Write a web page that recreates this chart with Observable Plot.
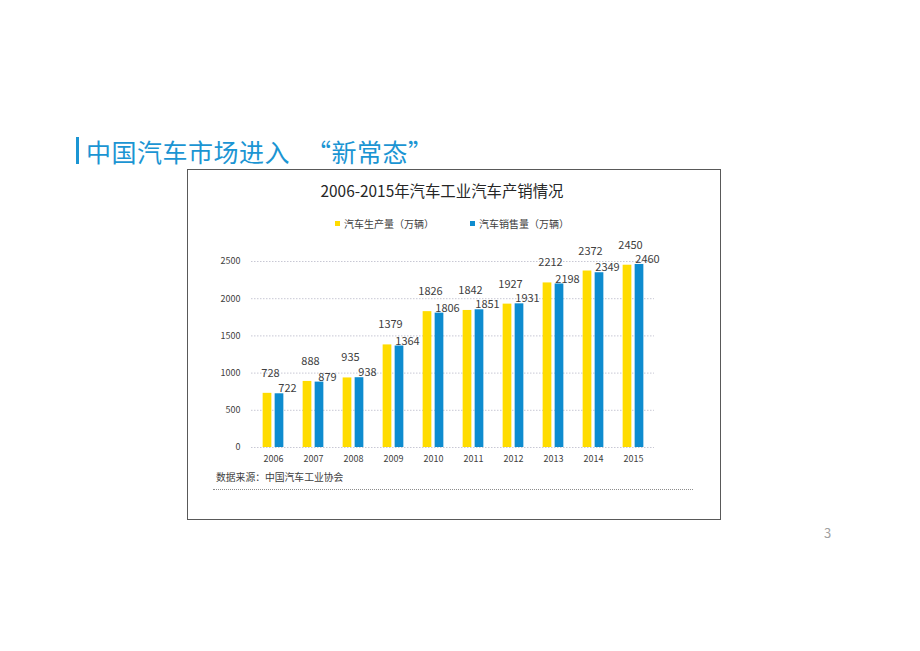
<!DOCTYPE html>
<html><head><meta charset="utf-8">
<script src="https://cdn.jsdelivr.net/npm/d3@7"></script>
<script src="https://cdn.jsdelivr.net/npm/@observablehq/plot@0.6"></script>
<style>
html,body{margin:0;padding:0;background:#fff;}
body{width:920px;height:651px;position:relative;overflow:hidden;font-family:"Noto Sans CJK SC","Noto Sans",sans-serif;}
.abs{position:absolute;}
#mainTitle{left:86px;top:133px;font-size:25px;letter-spacing:0.5px;color:#1b95d3;white-space:nowrap;line-height:36px;}
#bar{left:76px;top:137px;width:3px;height:27px;background:#1b95d3;}
#box{left:187px;top:169px;width:532px;height:349px;border:1px solid #595959;}
#chartTitle{left:188px;width:508px;top:179px;text-align:center;font-size:15.4px;color:#262626;white-space:nowrap;}
.leg{top:216px;font-size:10px;color:#404040;white-space:nowrap;display:flex;align-items:center;}
.sw{width:5px;height:5px;display:inline-block;margin-right:4px;}
#source{left:216px;top:470px;font-size:9.8px;color:#404040;white-space:nowrap;}
#srcline{left:213px;top:489px;width:480px;border-top:1px dotted #8c8c8c;}
#page{left:824px;top:523px;font-size:13px;color:#a0a0a0;}
#plot{left:188px;top:230px;}
</style></head>
<body>
<div id="bar" class="abs"></div>
<div id="mainTitle" class="abs">中国汽车市场进入<span style="margin-left:16px">“新常态”</span></div>
<div id="box" class="abs"></div>
<div id="chartTitle" class="abs">2006-2015年汽车工业汽车产销情况</div>
<div class="abs leg" style="left:335px"><span class="sw" style="background:#ffdc00"></span>汽车生产量（万辆）</div>
<div class="abs leg" style="left:470px"><span class="sw" style="background:#0e8ccf"></span>汽车销售量（万辆）</div>
<div id="plot" class="abs"></div>
<div id="source" class="abs">数据来源：中国汽车工业协会</div>
<div id="srcline" class="abs"></div>
<div id="page" class="abs">3</div>
<script>
const years = ["2006","2007","2008","2009","2010","2011","2012","2013","2014","2015"];
const production = [728, 888, 935, 1379, 1826, 1842, 1927, 2212, 2372, 2450];
const sales = [722, 879, 938, 1364, 1806, 1851, 1931, 2198, 2349, 2460];
const yTicks = [0, 500, 1000, 1500, 2000, 2500];
const prodColor = "#ffdc00";
const salesColor = "#0e8ccf";

const prodData = years.map((y, i) => ({year: y, value: production[i]}));
const salesData = years.map((y, i) => ({year: y, value: sales[i]}));

const width = 532, height = 240;
const marginLeft = 63, marginRight = 66;
const step = (width - marginLeft - marginRight) / years.length;
const half = step / 2;

const chart = Plot.plot({
  width, height,
  marginLeft, marginRight, marginTop: 31, marginBottom: 23,
  style: {fontFamily: "'Noto Sans CJK SC','Noto Sans',sans-serif", fontSize: "9px", color: "#404040", background: "transparent", overflow: "visible"},
  x: {type: "band", domain: years, padding: 0, label: null, tickSize: 0, tickPadding: 8},
  y: {domain: [0, 2500], ticks: yTicks, tickFormat: d => String(d), label: null, tickSize: 0, tickPadding: 11},
  marks: [
    Plot.ruleY(yTicks, {stroke: "#c8c8d4", strokeDasharray: "1.5,1.5", strokeWidth: 1}),
    Plot.barY(prodData, {x: "year", y: "value", fill: prodColor, insetLeft: half - 10.5, insetRight: half + 1.5}),
    Plot.barY(salesData, {x: "year", y: "value", fill: salesColor, insetLeft: half + 1.5, insetRight: half - 10.5}),
    Plot.text(prodData, {x: "year", y: "value", text: d => String(d.value), dx: -3, dy: -20, fontSize: 11, fill: "#404040"}),
    Plot.text(salesData, {x: "year", y: "value", text: d => String(d.value), dx: 14, dy: -5, fontSize: 11, fill: "#404040"})
  ]
});
document.getElementById("plot").appendChild(chart);
</script>
</body></html>
